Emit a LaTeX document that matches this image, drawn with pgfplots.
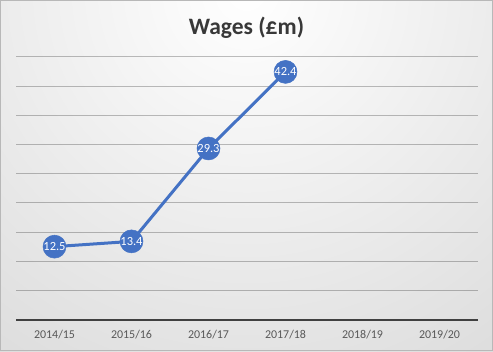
\documentclass[border=0pt]{standalone}
\usepackage{pgfplots}
\pgfplotsset{compat=1.18}
\usepackage{fontspec}
\setmainfont{Carlito}
\definecolor{wblue}{HTML}{4472C4}
\begin{document}
\begin{tikzpicture}[x=1bp,y=1bp]
\begin{scope}
\clip (0,0) rectangle (493,351);
\shade[inner color=white, outer color=black!26] (246.5,360) circle (860);
\end{scope}
\draw[black!28, line width=1bp] (0.5,0.5) rectangle (492.5,350.5);
\node[font=\bfseries\fontsize{23.6}{28}\selectfont, text=black!78] at (246.5,323) {Wages (£m)};
\begin{axis}[
  at={(16bp,31.3bp)}, anchor=south west, scale only axis,
  width=462bp, height=263bp,
  xmin=-0.5, xmax=5.5, ymin=0, ymax=45,
  ytick={5,10,...,45}, yticklabels={},
  ymajorgrids, grid style={black, opacity=0.25, line width=0.75bp},
  xtick={0,1,2,3,4,5},
  xticklabels={2014/15,2015/16,2016/17,2017/18,2018/19,2019/20},
  major tick length=0,
  axis line style={draw=none},
  extra y ticks={0}, extra y tick labels={},
  extra y tick style={grid style={black!75, opacity=1, line width=2bp}},
  x tick label style={font=\fontsize{12}{14}\selectfont, text=black!65, anchor=center, yshift=-15bp},
  clip=false,
  nodes near coords,
  point meta=explicit symbolic,
  every node near coord/.append style={anchor=center, text=white, font=\fontsize{12.5}{14}\selectfont},
]
\addplot[wblue, line width=3bp, mark=*, mark size=11.5bp, mark options={fill=wblue, draw=wblue, line width=0.5bp}]
  coordinates {(0,12.5) [12.5] (1,13.4) [13.4] (2,29.3) [29.3] (3,42.4) [42.4]};
\end{axis}
\end{tikzpicture}
\end{document}
